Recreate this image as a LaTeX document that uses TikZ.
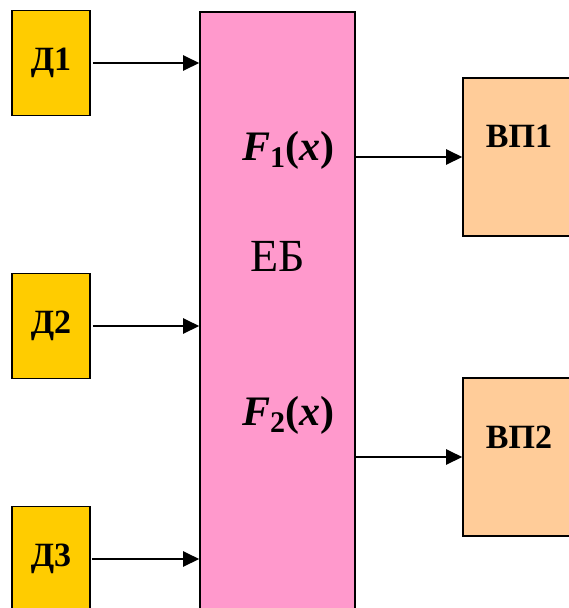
\documentclass[tikz,border=0pt]{standalone}
\usepackage{fontspec}
\setmainfont{Liberation Serif}
\newfontfamily\tms{Liberation Serif}
\usetikzlibrary{positioning}
\usetikzlibrary{arrows.meta}

\definecolor{dyellow}{HTML}{FFCC00}
\definecolor{ebpink}{HTML}{FF99CC}
\definecolor{vporange}{HTML}{FFCC99}

\begin{document}
\begin{tikzpicture}[x=1pt,y=-1pt,
      -{Triangle[length=16pt,width=15pt]},
      line width=2.5pt,
      box/.style={draw, line width=1.6pt, -, inner sep=0pt},
      dbox/.style={box, fill=dyellow, minimum width=78pt, minimum height=105pt,
        font=\tms\fontsize{34}{40}\selectfont\bfseries},
      vpbox/.style={box, fill=vporange, minimum width=112pt, minimum height=158pt},
      lab/.style={font=\tms\fontsize{34}{40}\selectfont\bfseries},
      flab/.style={font=\tms\fontsize{42}{48}\selectfont}
      ]
    \path [use as bounding box, clip] (0,0) rectangle (569,608);

    \node (d1) [dbox] at (51,63) {Д1};
    \node (d2) [dbox] at (51,326) {Д2};
    \node (d3) [dbox] at (51,559) {Д3};

    \node (eb) [box, fill=ebpink, minimum width=155pt, minimum height=612pt]
      at (277.5,318) {};

    \node (vp1) [vpbox] at (519,157) {};
    \node (vp2) [vpbox] at (519,457) {};
    \node [lab] at ([yshift=-59pt] vp1.north) {ВП1};
    \node [lab] at ([yshift=-60pt] vp2.north) {ВП2};

    % functions inside the block
    \node (f1) [flab] at (288,150)
      {\textbf{\textit{F}}\raisebox{-7pt}{\fontsize{30}{30}\selectfont\bfseries 1}\textbf{(\textit{x})}};
    \node (ebl) [flab, font=\tms\fontsize{46}{50}\selectfont] at (278,256) {ЕБ};
    \node (f2) [flab] at (288,415)
      {\textbf{\textit{F}}\raisebox{-7pt}{\fontsize{30}{30}\selectfont\bfseries 2}\textbf{(\textit{x})}};

    \draw [shorten <=2pt] (d1) -- (d1 -| eb.west);
    \draw [shorten <=2pt] (d2) -- (d2 -| eb.west);
    \draw [shorten <=1pt] (d3) -- (d3 -| eb.west);

    \draw (vp1 -| eb.east) -- (vp1);
    \draw (vp2 -| eb.east) -- (vp2);
  \end{tikzpicture}
\end{document}
